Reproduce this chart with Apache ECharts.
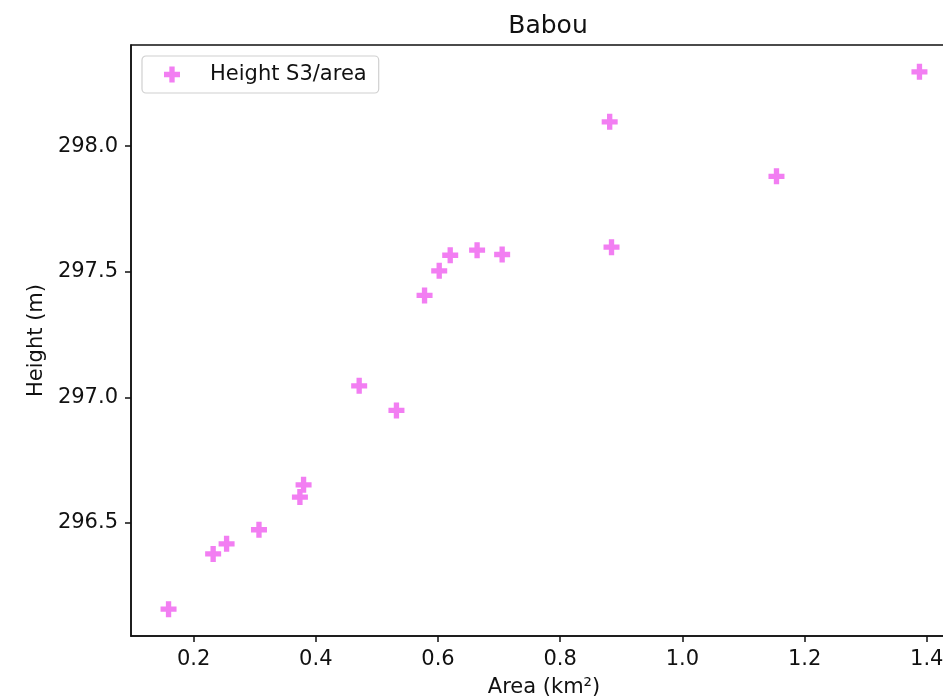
<!DOCTYPE html>
<html>
<head>
<meta charset="utf-8">
<script src="https://cdn.jsdelivr.net/npm/echarts@6/dist/echarts.min.js"></script>
<style>
  html, body { margin: 0; padding: 0; background: #fff; overflow: hidden; }
  #chart { width: 943px; height: 700px; }
</style>
</head>
<body>
<div id="chart"></div>
<script>
// Lake surface area (km²) against water height (m)
const areaKm2 = [0.159, 0.232, 0.254, 0.307, 0.374, 0.380, 0.471, 0.532, 0.578, 0.602, 0.620, 0.664, 0.705, 0.881, 0.884, 1.154, 1.388];
const heightM = [296.157, 296.377, 296.417, 296.473, 296.603, 296.652, 297.046, 296.948, 297.406, 297.504, 297.566, 297.586, 297.569, 298.097, 297.598, 297.880, 298.296];
const xTicks = [0.2, 0.4, 0.6, 0.8, 1.0, 1.2, 1.4];
const yTicks = [296.5, 297.0, 297.5, 298.0];

// Axis extents: data range padded by 5% on each side
const xPad = (Math.max(...areaKm2) - Math.min(...areaKm2)) * 0.05;
const yPad = (Math.max(...heightM) - Math.min(...heightM)) * 0.05;
const xMin = Math.min(...areaKm2) - xPad, xMax = Math.max(...areaKm2) + xPad;
const yMin = Math.min(...heightM) - yPad, yMax = Math.max(...heightM) + yPad;

const FONT = 'DejaVu Sans';
const FS = 21;
const plusPath = 'path://M2,0H4V2H6V4H4V6H2V4H0V2H2Z';

const chart = echarts.init(document.getElementById('chart'), null, { renderer: 'canvas' });
chart.setOption({
  animation: false,
  backgroundColor: '#fff',
  textStyle: { fontFamily: FONT },
  title: {
    text: 'Babou',
    left: 543, top: 9, textAlign: 'center',
    textStyle: { fontFamily: FONT, fontSize: 25, fontWeight: 'normal', color: '#111' }
  },
  legend: {
    left: 142, top: 56,
    orient: 'vertical',
    backgroundColor: '#fff',
    borderColor: '#d0d0d0', borderWidth: 1.2, borderRadius: 4,
    padding: [8, 12, 8, 22],
    itemWidth: 16, itemHeight: 16,
    textStyle: { fontFamily: FONT, fontSize: FS, color: '#111', padding: [0, 0, 0, 25] },
    data: [{ name: 'Height S3/area', icon: plusPath }]
  },
  grid: {
    left: 131, top: 45, bottom: 64, right: -14,
    show: true, borderColor: '#111', borderWidth: 1.5, backgroundColor: 'transparent',
    outerBoundsMode: 'none'
  },
  xAxis: {
    type: 'value', min: xMin, max: xMax,
    name: 'Area (km²)', nameLocation: 'middle', nameGap: 41,
    nameTextStyle: { fontFamily: FONT, fontSize: FS, color: '#111' },
    axisLine: { show: true, lineStyle: { color: '#111', width: 1.5 } },
    axisTick: { show: true, inside: false, length: 6, lineStyle: { color: '#111', width: 1.5 }, customValues: xTicks },
    axisLabel: { fontFamily: FONT, fontSize: FS, color: '#111', margin: 13, customValues: xTicks,
                 formatter: v => v.toFixed(1) },
    splitLine: { show: false }
  },
  yAxis: {
    type: 'value', min: yMin, max: yMax,
    name: 'Height (m)', nameLocation: 'middle', nameGap: 84, nameRotate: 90,
    nameTextStyle: { fontFamily: FONT, fontSize: FS, color: '#111' },
    axisLine: { show: true, lineStyle: { color: '#111', width: 1.5 } },
    axisTick: { show: true, inside: false, length: 6, lineStyle: { color: '#111', width: 1.5 }, customValues: yTicks },
    axisLabel: { fontFamily: FONT, fontSize: FS, color: '#111', margin: 13, customValues: yTicks,
                 formatter: v => v.toFixed(1) },
    splitLine: { show: false }
  },
  series: [{
    name: 'Height S3/area',
    type: 'scatter',
    symbol: plusPath,
    symbolSize: 16,
    itemStyle: { color: '#F27EF2', opacity: 1 },
    data: areaKm2.map((a, i) => [a, heightM[i]])
  }]
});
</script>
</body>
</html>
